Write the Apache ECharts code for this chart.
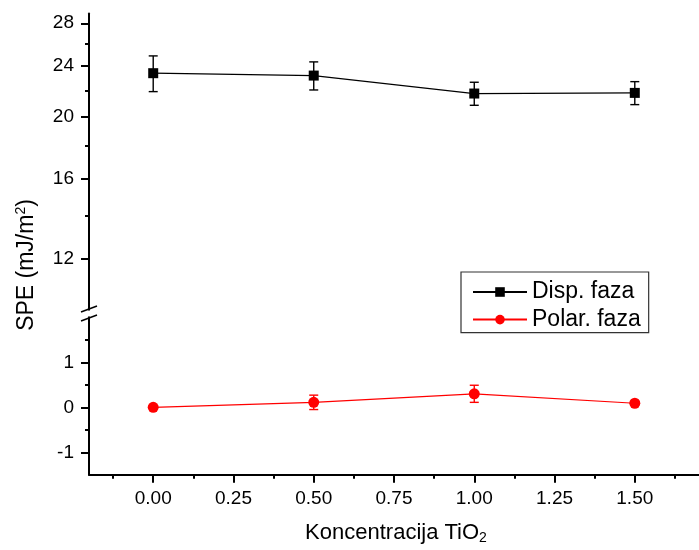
<!DOCTYPE html>
<html>
<head>
<meta charset="utf-8">
<script src="https://cdn.jsdelivr.net/npm/echarts@6/dist/echarts.min.js"></script>
<style>
html,body{margin:0;padding:0;background:#fff;}
#chart{width:699px;height:550px;}
</style>
</head>
<body>
<div id="chart"></div>
<script>
// ---- data ----
const xValues = [0, 0.5, 1.0, 1.5];
const dispValues = [23.4, 23.2, 21.75, 21.8];
const dispErr = [1.5, 1.17, 0.9, 0.9];
const polarValues = [0.0, 0.11, 0.30, 0.09];
const polarErr = [0.02, 0.16, 0.19, 0.04];
const xMajorTicks = [0, 0.25, 0.5, 0.75, 1.0, 1.25, 1.5];
const xMinorTicks = [-0.125, 0.125, 0.375, 0.625, 0.875, 1.125, 1.375, 1.625];
const topMajorTicks = [12, 16, 20, 24, 28];
const topMinorTicks = [14, 18, 22, 26];
const bottomMajorTicks = [-1, 0, 1];
const bottomMinorTicks = [-0.5, 0.5, 1.5];
const seriesNames = ['Disp. faza', 'Polar. faza'];

const FONT = 'Liberation Sans, Arial, sans-serif';
const chart = echarts.init(document.getElementById('chart'));

function errRender(params, api) {
  const x = api.value(0);
  const lo = api.coord([x, api.value(1)]);
  const hi = api.coord([x, api.value(2)]);
  const cap = 4.5;
  const st = {stroke: api.visual('color'), lineWidth: 1.4};
  return {
    type: 'group',
    children: [
      {type: 'line', shape: {x1: lo[0], y1: lo[1], x2: hi[0], y2: hi[1]}, style: st},
      {type: 'line', shape: {x1: lo[0] - cap, y1: lo[1], x2: lo[0] + cap, y2: lo[1]}, style: st},
      {type: 'line', shape: {x1: hi[0] - cap, y1: hi[1], x2: hi[0] + cap, y2: hi[1]}, style: st}
    ]
  };
}

const axisLineStyle = {color: '#000', width: 2};
const labelStyle = {color: '#000', fontSize: 19, fontFamily: FONT};

const option = {
  animation: false,
  backgroundColor: '#fff',
  grid: [
    {left: 89, top: 13.5, width: 617.5, height: 296.2, containLabel: false},
    {left: 89, top: 317.3, width: 617.5, height: 157.5, containLabel: false}
  ],
  xAxis: [
    {gridIndex: 0, type: 'value', min: -0.2, max: 1.7, show: false, axisLine: {onZero: false}},
    {gridIndex: 1, type: 'value', min: -0.2, max: 1.7, position: 'bottom',
      axisLine: {show: true, onZero: false, lineStyle: axisLineStyle},
      axisTick: {show: true, inside: false, length: 8, lineStyle: {color: '#000', width: 2}, customValues: xMajorTicks},
      axisLabel: {show: true, margin: 14, customValues: xMajorTicks, formatter: v => Number(v).toFixed(2), ...labelStyle},
      splitLine: {show: false}},
    {gridIndex: 1, type: 'value', min: -0.2, max: 1.7, position: 'bottom', offset: 0,
      axisLine: {show: false, onZero: false},
      axisTick: {show: true, inside: false, length: 4, lineStyle: {color: '#000', width: 2}, customValues: xMinorTicks},
      axisLabel: {show: false},
      splitLine: {show: false}}
  ],
  yAxis: [
    {gridIndex: 0, type: 'log', logBase: 10, min: 10, max: 29, position: 'left',
      axisLine: {show: true, onZero: false, lineStyle: axisLineStyle},
      axisTick: {show: true, inside: false, length: 8, lineStyle: {color: '#000', width: 2}, customValues: topMajorTicks},
      axisLabel: {show: true, margin: 15, customValues: topMajorTicks, formatter: v => String(Math.round(v)), ...labelStyle},
      splitLine: {show: false}, minorTick: {show: false}},
    {gridIndex: 0, type: 'log', logBase: 10, min: 10, max: 29, position: 'left', offset: 0,
      axisLine: {show: false, onZero: false},
      axisTick: {show: true, inside: false, length: 4, lineStyle: {color: '#000', width: 2}, customValues: topMinorTicks},
      axisLabel: {show: false},
      splitLine: {show: false}},
    {gridIndex: 1, type: 'value', min: -1.5, max: 2, position: 'left',
      axisLine: {show: true, onZero: false, lineStyle: axisLineStyle},
      axisTick: {show: true, inside: false, length: 8, lineStyle: {color: '#000', width: 2}, customValues: bottomMajorTicks},
      axisLabel: {show: true, margin: 15, customValues: bottomMajorTicks, formatter: v => String(Math.round(v)), ...labelStyle},
      splitLine: {show: false}},
    {gridIndex: 1, type: 'value', min: -1.5, max: 2, position: 'left', offset: 0,
      axisLine: {show: false, onZero: false},
      axisTick: {show: true, inside: false, length: 4, lineStyle: {color: '#000', width: 2}, customValues: bottomMinorTicks},
      axisLabel: {show: false},
      splitLine: {show: false}}
  ],
  legend: {
    left: 461, top: 272, orient: 'vertical',
    data: seriesNames,
    itemWidth: 54, itemHeight: 12, itemGap: 3.6,
    padding: [8, 8, 1, 11],
    borderColor: '#333', borderWidth: 1.2,
    textStyle: {color: '#000', fontSize: 23, lineHeight: 24, fontFamily: FONT},
    selectedMode: false
  },
  series: [
    {type: 'custom', xAxisIndex: 0, yAxisIndex: 0, z: 1,
      itemStyle: {color: '#000'},
      encode: {x: 0, y: [1, 2]},
      data: xValues.map((x, i) => [x, dispValues[i] - dispErr[i], dispValues[i] + dispErr[i]]),
      renderItem: errRender},
    {name: seriesNames[0], type: 'line', xAxisIndex: 0, yAxisIndex: 0, z: 3,
      symbol: 'rect', symbolSize: 10,
      itemStyle: {color: '#000'}, lineStyle: {color: '#000', width: 1.2},
      data: xValues.map((x, i) => [x, dispValues[i]])},
    {type: 'custom', xAxisIndex: 1, yAxisIndex: 2, z: 1,
      itemStyle: {color: '#ff0000'},
      encode: {x: 0, y: [1, 2]},
      data: xValues.map((x, i) => [x, polarValues[i] - polarErr[i], polarValues[i] + polarErr[i]]),
      renderItem: errRender},
    {name: seriesNames[1], type: 'line', xAxisIndex: 1, yAxisIndex: 2, z: 3,
      symbol: 'circle', symbolSize: 11,
      itemStyle: {color: '#ff0000'}, lineStyle: {color: '#ff0000', width: 1.2},
      data: xValues.map((x, i) => [x, polarValues[i]])}
  ],
  graphic: [
    {type: 'line', shape: {x1: 81, y1: 312, x2: 97, y2: 306}, style: {stroke: '#000', lineWidth: 1.6}},
    {type: 'line', shape: {x1: 81, y1: 321, x2: 97, y2: 315}, style: {stroke: '#000', lineWidth: 1.6}},
    {type: 'text', x: 396, y: 533,
      style: {
        text: '{a|Koncentracija TiO}{b|2}',
        textAlign: 'center', textVerticalAlign: 'middle', align: 'center', verticalAlign: 'middle',
        rich: {
          a: {fontSize: 22, lineHeight: 24, fontFamily: FONT, fill: '#000', color: '#000'},
          b: {fontSize: 14, lineHeight: 14, verticalAlign: 'bottom', fontFamily: FONT, fill: '#000', color: '#000'}
        }
      }},
    {type: 'text', x: 27, y: 265, rotation: Math.PI / 2,
      style: {
        text: '{a|SPE (mJ/m}{b|2}{a|)}',
        textAlign: 'center', textVerticalAlign: 'middle', align: 'center', verticalAlign: 'middle',
        rich: {
          a: {fontSize: 23, lineHeight: 25, fontFamily: FONT, fill: '#000', color: '#000'},
          b: {fontSize: 14, lineHeight: 14, verticalAlign: 'top', fontFamily: FONT, fill: '#000', color: '#000'}
        }
      }}
  ]
};
chart.setOption(option);
</script>
</body>
</html>
